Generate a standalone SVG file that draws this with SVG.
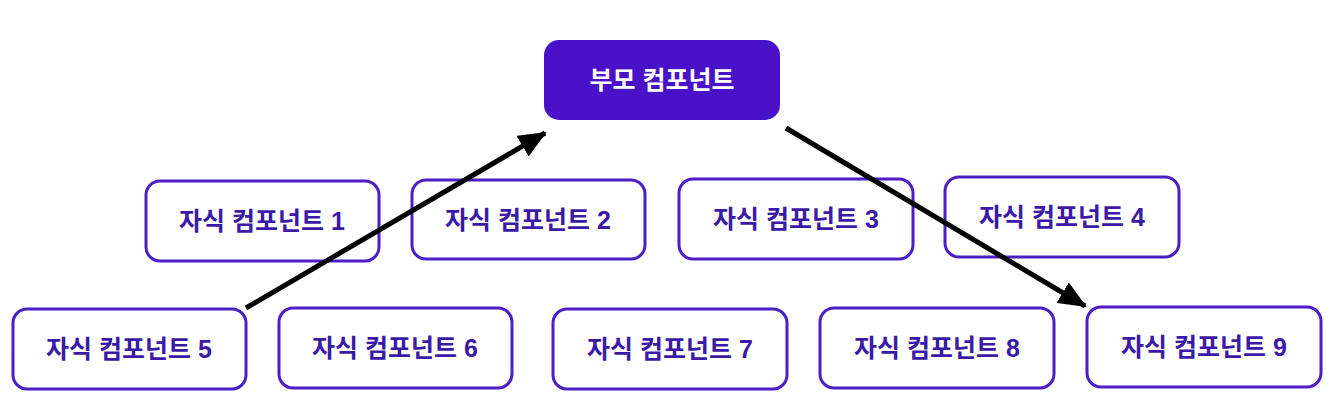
<svg xmlns="http://www.w3.org/2000/svg" width="1334" height="398" viewBox="0 0 1334 398">
<style>
.child rect{fill:#ffffff;stroke:#4a1fc4;stroke-width:3}
.child text{fill:#3a1aa6;font-family:"Liberation Sans","Noto Sans CJK KR",sans-serif;font-size:25px;font-weight:bold;text-anchor:middle;dominant-baseline:central}
.parent rect{fill:#4a12c8}
.parent text{fill:#ffffff;font-family:"Liberation Sans","Noto Sans CJK KR",sans-serif;font-size:25px;font-weight:bold;text-anchor:middle;dominant-baseline:central}
.conn line{stroke:#000000;stroke-width:5;marker-end:url(#ah)}
</style>
<defs>
<marker id="ah" markerUnits="userSpaceOnUse" markerWidth="28" markerHeight="24" refX="26" refY="12" orient="auto">
<path d="M0,0 L28,12 L0,24 Z" fill="#000"/>
</marker>
</defs>
<rect width="1334" height="398" fill="#ffffff"/>
<g id="parent" class="parent"><rect x="544" y="40" width="236" height="80" rx="15"/><text x="662" y="80">부모 컴포넌트</text></g>
<g id="child1" class="child"><rect x="146" y="181" width="233" height="80" rx="14"/><text x="262" y="221">자식 컴포넌트 1</text></g>
<g id="child2" class="child"><rect x="412" y="180" width="233" height="79" rx="14"/><text x="528" y="220">자식 컴포넌트 2</text></g>
<g id="child3" class="child"><rect x="679" y="179" width="234" height="80" rx="14"/><text x="796" y="219">자식 컴포넌트 3</text></g>
<g id="child4" class="child"><rect x="945" y="177" width="234" height="80" rx="14"/><text x="1062" y="217">자식 컴포넌트 4</text></g>
<g id="child5" class="child"><rect x="13" y="309" width="233" height="80" rx="14"/><text x="129" y="349">자식 컴포넌트 5</text></g>
<g id="child6" class="child"><rect x="279" y="308" width="233" height="80" rx="14"/><text x="395" y="348">자식 컴포넌트 6</text></g>
<g id="child7" class="child"><rect x="553" y="309" width="234" height="80" rx="14"/><text x="670" y="349">자식 컴포넌트 7</text></g>
<g id="child8" class="child"><rect x="820" y="308" width="234" height="80" rx="14"/><text x="937" y="348">자식 컴포넌트 8</text></g>
<g id="child9" class="child"><rect x="1087" y="307" width="234" height="80" rx="14"/><text x="1204" y="347">자식 컴포넌트 9</text></g>
<g id="connectors" class="conn">
<line x1="246" y1="308" x2="545" y2="133"/>
<line x1="786" y1="128" x2="1085" y2="306"/>
</g>
</svg>
